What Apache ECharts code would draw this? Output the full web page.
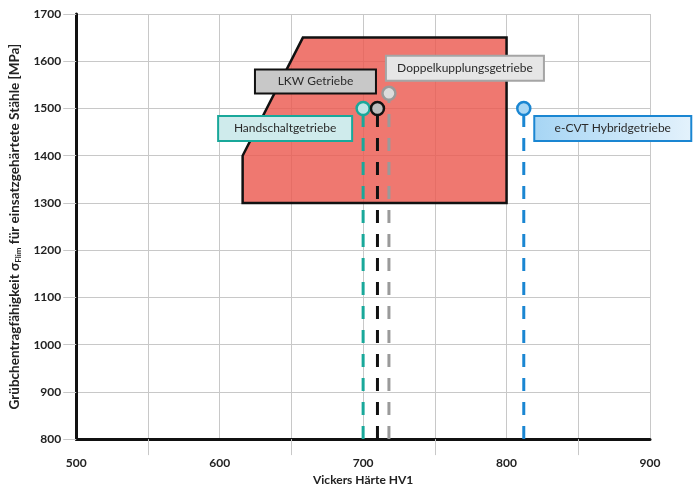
<!DOCTYPE html>
<html><head><meta charset="utf-8">
<script src="https://cdn.jsdelivr.net/npm/echarts@6/dist/echarts.min.js"></script>
<style>html,body{margin:0;padding:0;background:#fff}#c{width:696px;height:491px}</style>
</head><body><div id="c"></div>
<script>
// Data
const gears = ['Handschaltgetriebe', 'LKW Getriebe', 'Doppelkupplungsgetriebe', 'e-CVT Hybridgetriebe'];
const hardness = [700, 710, 718, 812];
const strength = [1500, 1500, 1532, 1500];
const regionX = [616, 616, 658, 800, 800];
const regionY = [1300, 1400, 1650, 1650, 1300];
const xTicks = [500, 600, 700, 800, 900];
const yTicks = [800, 900, 1000, 1100, 1200, 1300, 1400, 1500, 1600, 1700];

// Styles
const lineColors = ['#19A89A', '#111111', '#9A9A9A', '#1A86D2'];
const fillColors = ['#BFE6E6', '#BDBDBD', '#DCDCDC', '#A9D7F4'];
const labelStyles = [
  {offset: [-78, 20], width: 132, height: 23, bg: '#CFEBEC', border: '#19A89A'},
  {offset: [-62, -27], width: 119, height: 22, bg: '#C8C8C8', border: '#111111'},
  {offset: [76, -25], width: 156, height: 23, bg: '#E6E6E6', border: '#A5A5A5'},
  {offset: [89, 20], width: 155, height: 23, bg: null, border: '#1A86D2'}
];

const chart = echarts.init(document.getElementById('c'), null, {renderer: 'canvas'});
const font = 'Lato, "Open Sans", sans-serif';

const series = [];
series.push({
  type: 'custom',
  z: 1,
  silent: true,
  data: [0],
  renderItem: function (params, api) {
    const pts = regionX.map((x, i) => api.coord([x, regionY[i]]));
    return {
      type: 'polygon',
      shape: {points: pts},
      style: {fill: 'rgba(236,90,80,0.82)', stroke: '#111', lineWidth: 2.5, lineJoin: 'miter'}
    };
  }
});
gears.forEach((g, i) => {
  series.push({
    type: 'line',
    z: 3,
    silent: true,
    symbol: 'none',
    data: [[hardness[i], yTicks[0]], [hardness[i], strength[i]]],
    lineStyle: {color: lineColors[i], width: 3, type: [13, 11]}
  });
});
gears.forEach((g, i) => {
  const ls = labelStyles[i];
  const bg = ls.bg || new echarts.graphic.LinearGradient(0, 0, 1, 0, [
    {offset: 0, color: '#A6D5F4'}, {offset: 1, color: '#E4F2FC'}]);
  series.push({
    type: 'scatter',
    z: 5,
    silent: true,
    symbol: 'circle',
    symbolSize: 13,
    itemStyle: {color: fillColors[i], borderColor: lineColors[i], borderWidth: 2.5, opacity: 1},
    data: [[hardness[i], strength[i]]],
    label: {
      show: true,
      position: 'inside',
      offset: ls.offset,
      formatter: g,
      fontFamily: font,
      fontSize: 12,
      color: '#2a2a2a',
      width: ls.width,
      height: ls.height,
      lineHeight: ls.height,
      align: 'center',
      verticalAlign: 'middle',
      backgroundColor: bg,
      borderColor: ls.border,
      borderWidth: 2
    }
  });
});

chart.setOption({
  animation: false,
  backgroundColor: '#fff',
  grid: {left: 75, right: 46, top: 14, bottom: 48},
  xAxis: {
    type: 'value',
    min: xTicks[0], max: xTicks[xTicks.length - 1], interval: 100,
    name: 'Vickers Härte HV1',
    nameLocation: 'middle',
    nameGap: 33,
    nameTextStyle: {fontFamily: font, fontWeight: 'bold', fontSize: 12, color: '#222'},
    axisLine: {lineStyle: {color: '#111', width: 3}},
    axisTick: {show: false},
    minorTick: {show: true, splitNumber: 2, length: 16, lineStyle: {color: '#C8C8C8', width: 1}},
    axisLabel: {fontFamily: font, fontWeight: 'bold', fontSize: 12, color: '#222', margin: 18,
      formatter: v => String(v)},
    splitLine: {show: true, lineStyle: {color: '#C8C8C8', width: 1}},
    minorSplitLine: {show: true, lineStyle: {color: '#C8C8C8', width: 1}}
  },
  yAxis: {
    type: 'value',
    min: yTicks[0], max: yTicks[yTicks.length - 1], interval: 100,
    name: '{a|Grübchentragfähigkeit σ}{s|Flim}{a| für einsatzgehärtete Stähle [MPa]}',
    nameLocation: 'middle',
    nameGap: 44,
    nameTextStyle: {
      rich: {
        a: {fontFamily: font, fontWeight: 'bold', fontSize: 13.5, color: '#222'},
        s: {fontFamily: font, fontWeight: 'bold', fontSize: 8, color: '#222', padding: [7, 0, 0, 0]}
      }
    },
    axisLine: {show: true, lineStyle: {color: '#111', width: 3}},
    axisTick: {show: true, length: 13, lineStyle: {color: '#C8C8C8', width: 1}},
    axisLabel: {fontFamily: font, fontWeight: 'bold', fontSize: 12, color: '#222', margin: 15,
      formatter: v => String(v)},
    splitLine: {show: true, lineStyle: {color: '#C8C8C8', width: 1}}
  },
  series: series
});
</script></body></html>
